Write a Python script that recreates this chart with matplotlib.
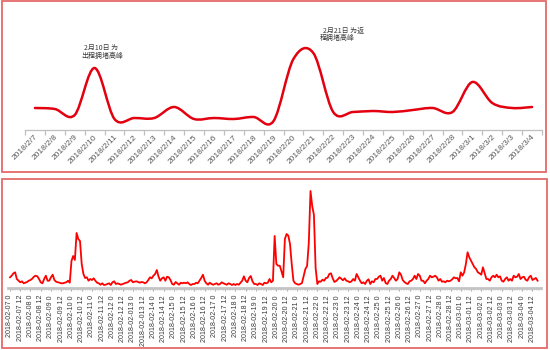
import matplotlib
matplotlib.use("Agg")
import matplotlib.pyplot as plt
from matplotlib.path import Path
from matplotlib.patches import PathPatch, Rectangle
import numpy as np

# ---------------- daily congestion index (top chart) ----------------
day_labels = ["2018/2/7", "2018/2/8", "2018/2/9", "2018/2/10", "2018/2/11",
              "2018/2/12", "2018/2/13", "2018/2/14", "2018/2/15", "2018/2/16",
              "2018/2/17", "2018/2/18", "2018/2/19", "2018/2/20", "2018/2/21",
              "2018/2/22", "2018/2/23", "2018/2/24", "2018/2/25", "2018/2/26",
              "2018/2/27", "2018/2/28", "2018/3/1", "2018/3/2", "2018/3/3",
              "2018/3/4"]
daily_values = [22, 21, 15, 62, 11, 12, 12, 23, 11, 12, 11, 13, 9, 71, 77,
                18, 18, 19, 18, 20, 22, 18, 48, 27, 22, 23]

# ---------------- two-hourly congestion index (bottom chart) ----------------
feb07 = [10.7, 12.3, 14.7, 15.7, 9, 7.3, 5.7, 6.7, 4.7, 5.3, 6, 7.3]
feb08 = [8, 9.3, 11.3, 12.3, 11.7, 9, 5.7, 4.7, 9, 12.3, 7.3, 7.3]
feb09 = [10.7, 13.3, 8, 6.3, 5.7, 5.3, 4.7, 4.7, 5.3, 5.7, 7.3, 5.3]
feb10 = [27, 32, 28, 55, 49, 47, 24, 14, 10, 10.7, 7.3, 9]
feb11 = [8, 9.7, 7.3, 5.3, 4.7, 3.3, 4.7, 3, 3.3, 4, 4.7, 3]
feb12 = [5.7, 6.7, 4, 4.7, 4, 3.3, 4, 4.7, 5.3, 5.7, 7.3, 8]
feb13 = [5.7, 6.3, 6.7, 6, 5.3, 6, 5.7, 4.7, 5.7, 8, 10.7, 9.7]
feb14 = [12.3, 14, 18, 11.3, 7.3, 9.7, 10.7, 7.3, 11.3, 10.7, 8, 4]
feb15 = [3.3, 6, 4.7, 3.3, 5.3, 4.7, 5.3, 4.7, 5.7, 4, 3, 4]
feb16 = [4, 5.3, 4.7, 7.3, 10, 13.3, 7.3, 4.7, 3.3, 5.3, 4, 3.3]
feb17 = [4, 4.7, 3.3, 4, 5.7, 4.7, 4, 3.3, 4.7, 4, 3, 4]
feb18 = [3, 4, 3.3, 5.3, 7.3, 11.7, 7.3, 5.7, 10, 12, 6.7, 4]
feb19 = [4, 3, 4.7, 4, 3, 5.3, 4.7, 5.3, 9, 5.7, 7.3, 52]
feb20 = [24, 22.3, 22.3, 16.7, 10.7, 49, 54, 52.3, 44, 24, 7.3, 4.7]
feb21 = [4, 3.3, 4, 5, 12, 19, 22, 45, 97, 82, 73, 20]
feb22 = [4, 6.7, 6.3, 8.3, 7.3, 10, 10.3, 14, 14.7, 9.7, 6, 7]
feb23 = [8.7, 10.7, 9.3, 7.7, 9.7, 7.3, 6.7, 5.7, 6.7, 9, 7.3, 14]
feb24 = [10.7, 7.3, 4.7, 5.7, 4, 7.3, 8.7, 4, 6.7, 5.7, 9, 9]
feb25 = [11.3, 12.3, 7.3, 10, 5, 4, 7.3, 9, 12.3, 10, 7.3, 9]
feb26 = [15.7, 13.3, 8, 6, 4.7, 4, 6.7, 7.3, 9, 12.3, 9, 14]
feb27 = [12.3, 7.3, 7.3, 4.7, 7.3, 9, 12.3, 10.7, 11.3, 12.3, 10.7, 7.3]
feb28 = [9, 6.3, 6.7, 5.7, 7.3, 6.7, 7.3, 8.7, 10.7, 9.7, 10, 6.7]
mar01 = [15.7, 12.3, 15.7, 24, 35.7, 30.7, 27.3, 24, 20.7, 19, 15.7, 14.7]
mar02 = [13.3, 20.7, 14.7, 9, 9, 7.3, 10.7, 12.3, 10.7, 13.3, 10.7, 11.7]
mar03 = [7.3, 6.3, 9, 10.7, 7.3, 9, 7.3, 12.3, 10.7, 11.3, 14, 9]
mar04 = [10.7, 11.3, 8.3, 7.3, 10.7, 12.3, 8, 9, 10, 7.3]

hour_days = ["02-07", "02-08", "02-09", "02-10", "02-11", "02-12", "02-013",
             "02-14", "02-15", "02-16", "02-17", "02-18", "02-19", "02-20",
             "02-21", "02-22", "02-23", "02-24", "02-25", "02-26", "02-27",
             "02-28", "03-01", "03-02", "03-03", "03-04"]
hour_labels = [f"2018-{d} {h}" for d in hour_days for h in (0, 12)]

series = np.concatenate([feb07, feb08, feb09, feb10, feb11, feb12, feb13,
                         feb14, feb15, feb16, feb17, feb18, feb19, feb20,
                         feb21, feb22, feb23, feb24, feb25, feb26, feb27,
                         feb28, mar01, mar02, mar03, mar04])
hours = np.arange(len(series)) * 2

# ---------------- figure ----------------
W, H = 550, 350
fig = plt.figure(figsize=(W / 100, H / 100), dpi=100)
fig.patch.set_facecolor("white")

cjk = ["Noto Sans CJK SC", "DejaVu Sans"]
lab_font = "Liberation Sans"
border = "#e46a6a"
axis_gray = "#bfbfbf"
text_gray = "#3a3a3a"


def fig_rect(x0, y0, x1, y1):
    return [x0 / W, 1 - y1 / H, (x1 - x0) / W, (y1 - y0) / H]


# panel frames
for (x0, y0, x1, y1) in [(2, 1.5, 546, 172), (1.5, 179, 547, 348)]:
    fig.patches.append(Rectangle((x0 / W, 1 - y1 / H), (x1 - x0) / W, (y1 - y0) / H,
                                 transform=fig.transFigure, fill=False,
                                 edgecolor=border, linewidth=1.3))


def smooth_path(xs, ys):
    """Cubic Bezier path through the points, Excel-style smoothed line."""
    n = len(xs)
    verts = [(xs[0], ys[0])]
    codes = [Path.MOVETO]
    for i in range(n - 1):
        a = i - 1 if i > 0 else i
        b = i + 2 if i + 2 < n else i + 1
        c1 = (xs[i] + (xs[i + 1] - xs[a]) / 6, ys[i] + (ys[i + 1] - ys[a]) / 6)
        c2 = (xs[i + 1] - (xs[b] - xs[i]) / 6, ys[i + 1] - (ys[b] - ys[i]) / 6)
        verts += [c1, c2, (xs[i + 1], ys[i + 1])]
        codes += [Path.CURVE4] * 3
    return Path(verts, codes)


# ---------------- top chart ----------------
ax1 = fig.add_axes(fig_rect(25, 30, 542, 130))
x_days = np.arange(len(daily_values))
ax1.add_patch(PathPatch(smooth_path(x_days, daily_values), fill=False,
                        edgecolor="#e3000f", linewidth=1.8, capstyle="round"))
ax1.set_xlim(-0.5, len(daily_values) - 0.5)
ax1.set_ylim(0, 100)
for s in ["top", "right", "left"]:
    ax1.spines[s].set_visible(False)
ax1.spines["bottom"].set_color(axis_gray)
ax1.spines["bottom"].set_linewidth(0.9)
ax1.set_yticks([])
ax1.set_xticks(x_days)
ax1.set_xticklabels([])
ax1.tick_params(axis="x", which="major", length=0)
ax1.set_xticks(np.arange(-0.5, len(daily_values)), minor=True)
ax1.tick_params(axis="x", which="minor", length=3.5, color=axis_gray, width=0.9)
for xi, lab in zip(x_days, day_labels):
    ax1.annotate(lab, xy=(xi, 0), xycoords="data", xytext=(2, -6),
                 textcoords="offset pixels", rotation=45, ha="right", va="center",
                 rotation_mode="anchor", fontsize=6.0, family=lab_font,
                 color="#595959", annotation_clip=False)

fig.text(101 / W, 1 - 47.5 / H, "2月10日 为", family=cjk, fontsize=5.0,
         color=text_gray, ha="center", va="center")
fig.text(102 / W, 1 - 55.5 / H, "出程拥堵高峰", family=cjk, fontsize=5.0,
         color=text_gray, ha="center", va="center")
fig.text(323 / W, 1 - 30 / H, "2月21日 为返", family=cjk, fontsize=5.0,
         color=text_gray, ha="left", va="center")
fig.text(320 / W, 1 - 37.5 / H, "程拥堵高峰", family=cjk, fontsize=5.0,
         color=text_gray, ha="left", va="center")

# ---------------- bottom chart ----------------
px_per_hour = 0.854
x_left, x_right = 8, 541
ax2 = fig.add_axes(fig_rect(x_left, 188, x_right, 288))
ax2.plot(hours, series, color="#ff0000", linewidth=1.3, solid_joinstyle="round")
ax2.set_xlim((x_left - 10) / px_per_hour, (x_right - 10) / px_per_hour)
ax2.set_ylim(0, 100)
for s in ["top", "right", "left"]:
    ax2.spines[s].set_visible(False)
ax2.spines["bottom"].set_color("#c4c4c4")
ax2.spines["bottom"].set_linewidth(2.0)
ax2.set_yticks([])
label_hours = np.arange(len(hour_labels)) * 12
ax2.set_xticks(label_hours)
ax2.set_xticklabels(hour_labels, rotation=90, fontsize=5.1, family=lab_font,
                    color=text_gray, va="top", ha="center")
ax2.set_xticks(np.arange(0, len(hour_labels) * 12, 2), minor=True)
ax2.tick_params(axis="x", which="major", length=2.5, color="#b0b0b0", width=0.8, pad=2.5)
ax2.tick_params(axis="x", which="minor", length=1.5, color="#cfcfcf", width=0.6)

fig.savefig("out.png", dpi=100, facecolor="white")
